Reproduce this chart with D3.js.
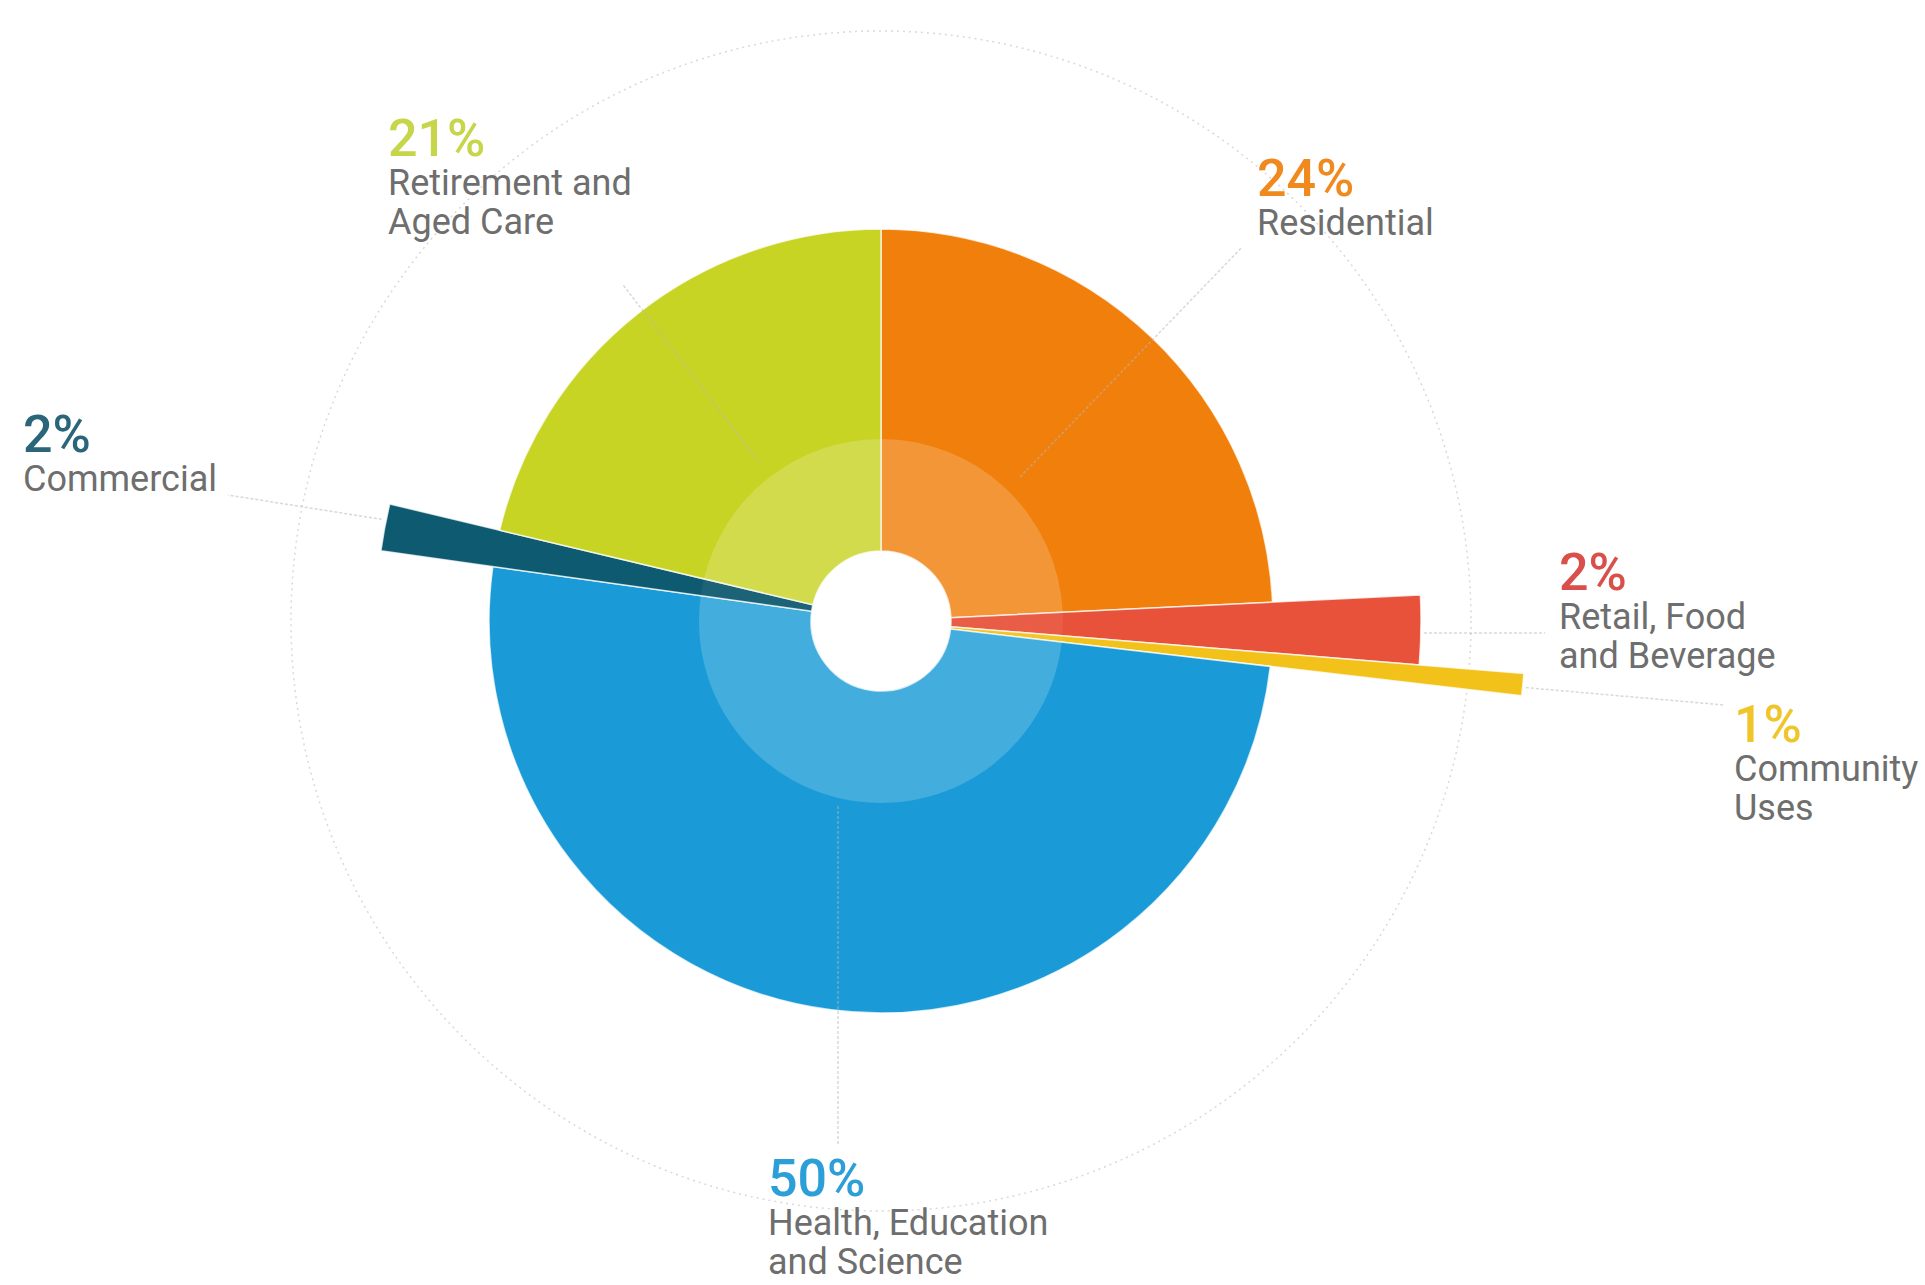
<!DOCTYPE html>
<html>
<head>
<meta charset="utf-8">
<script src="https://cdn.jsdelivr.net/npm/d3@7/dist/d3.min.js"></script>
<style>
  html, body { margin: 0; padding: 0; background: #ffffff; }
  svg { display: block; }
</style>
</head>
<body>
<svg id="chart" width="1925" height="1285"></svg>
<script>
// ---------- DATA ----------
const categories = ["Residential", "Retail, Food and Beverage", "Community Uses",
                    "Health, Education and Science", "Commercial", "Retirement and Aged Care"];
// drawn share of the circle (in %)
const drawnShare = [24.2, 2.06, 0.55, 50.3, 1.5, 21.25];
// percentage labels as printed
const percentLabels = ["24%", "2%", "1%", "50%", "2%", "21%"];
// category name lines as printed
const nameLines = [
  ["Residential"],
  ["Retail, Food", "and Beverage"],
  ["Community", "Uses"],
  ["Health, Education", "and Science"],
  ["Commercial"],
  ["Retirement and", "Aged Care"]
];

// ---------- LAYOUT / STYLE ----------
const W = 1925, H = 1285;
const cx = 881, cy = 621;
const holeR = 70, innerRingR = 182, guideR = 590;
const outerR = [392, 540, 645, 392, 505, 392];
const colors = ["#f07f0b", "#e8523a", "#f2c21b", "#1a9bd7", "#0e5a70", "#c8d424"];
const labelColors = ["#f08a1e", "#d9504b", "#f0c52a", "#2c9fd8", "#2a6579", "#c7d54a"];
// label anchors: x, baseline of percent line
const labelPos = [
  [1257, 196], [1559, 590], [1734, 742], [768, 1196], [23, 452], [388, 156]
];
const lineGap = 39;

const svg = d3.select("#chart");
const g = svg.append("g").attr("transform", `translate(${cx},${cy})`);

// faint dotted guide circle
g.append("circle")
  .attr("r", guideR)
  .attr("fill", "none")
  .attr("stroke", "#d9d9d9")
  .attr("stroke-width", 1.5)
  .attr("stroke-dasharray", "2,4");

const data = categories.map((c, i) => ({ name: c, value: drawnShare[i], i }));
const pie = d3.pie().sort(null).value(d => d.value).startAngle(0).endAngle(2 * Math.PI);
const arcs = pie(data);

const arcOuter = d3.arc().innerRadius(holeR).outerRadius(d => outerR[d.data.i]);

g.selectAll("path.slice")
  .data(arcs)
  .enter().append("path")
  .attr("class", "slice")
  .attr("d", arcOuter)
  .attr("fill", d => colors[d.data.i])
  .attr("stroke", "#ffffff")
  .attr("stroke-width", 1.5)
  .attr("stroke-opacity", 0.75);

// lighter inner ring
const arcInner = d3.arc().innerRadius(holeR).outerRadius(innerRingR);
g.selectAll("path.inner")
  .data(arcs)
  .enter().append("path")
  .attr("class", "inner")
  .attr("d", arcInner)
  .attr("fill", "#ffffff")
  .attr("fill-opacity", d => outerR[d.data.i] > 400 ? 0.06 : 0.18);

// leader lines (radial, computed from slice geometry / label anchors)
function polar(r, a) { return [r * Math.sin(a), -r * Math.cos(a)]; }
const leaderStyle = sel => sel
  .attr("fill", "none")
  .attr("stroke", "#b8b8b8")
  .attr("stroke-width", 1.5)
  .attr("stroke-opacity", 0.55)
  .attr("stroke-dasharray", "3,2");

// Residential leader (diagonal up-right)
{
  const a = 44 * Math.PI / 180;
  const p0 = polar(200, a), p1 = polar(520, a);
  g.append("line").attr("x1", p0[0]).attr("y1", p0[1]).attr("x2", p1[0]).attr("y2", p1[1]).call(leaderStyle);
}
// Retirement leader (diagonal up-left)
{
  const a = 322.5 * Math.PI / 180;
  const p0 = polar(200, a), p1 = polar(425, a);
  g.append("line").attr("x1", p0[0]).attr("y1", p0[1]).attr("x2", p1[0]).attr("y2", p1[1]).call(leaderStyle);
}
// Health leader (vertical, down to label)
{
  const lx = labelPos[3][0] + 70 - cx;
  g.append("line").attr("x1", lx).attr("y1", 185).attr("x2", lx).attr("y2", labelPos[3][1] - 52 - cy).call(leaderStyle);
}
// small-slice leaders from slice tip to label
function tip(i) {
  const a = (arcs[i].startAngle + arcs[i].endAngle) / 2;
  return polar(outerR[i], a);
}
{
  const t = tip(1);
  g.append("line").attr("x1", t[0] + 3).attr("y1", labelPos[1][1] + 43 - cy)
    .attr("x2", labelPos[1][0] - 14 - cx).attr("y2", labelPos[1][1] + 43 - cy).call(leaderStyle);
}
{
  const t = tip(2);
  g.append("line").attr("x1", t[0] + 3).attr("y1", t[1] + 3)
    .attr("x2", labelPos[2][0] - 10 - cx).attr("y2", labelPos[2][1] - 37 - cy).call(leaderStyle);
}
{
  const t = tip(4);
  g.append("line").attr("x1", t[0] - 3).attr("y1", t[1] - 8)
    .attr("x2", labelPos[4][0] + 205 - cx).attr("y2", labelPos[4][1] + 43 - cy).call(leaderStyle);
}

// labels
const labels = svg.append("g");
categories.forEach((c, i) => {
  const [x, y] = labelPos[i];
  labels.append("text")
    .attr("x", x).attr("y", y)
    .attr("font-family", "Roboto, 'Noto Sans', sans-serif")
    .attr("font-weight", 500)
    .attr("font-size", 52)
    .attr("fill", labelColors[i])
    .text(percentLabels[i]);
  nameLines[i].forEach((ln, k) => {
    labels.append("text")
      .attr("x", x).attr("y", y + lineGap * (k + 1))
      .attr("font-family", "Roboto, 'Noto Sans', sans-serif")
      .attr("font-weight", 400)
      .attr("font-size", 36)
      .attr("fill", "#6e6e6e")
      .text(ln);
  });
});
</script>
</body>
</html>
